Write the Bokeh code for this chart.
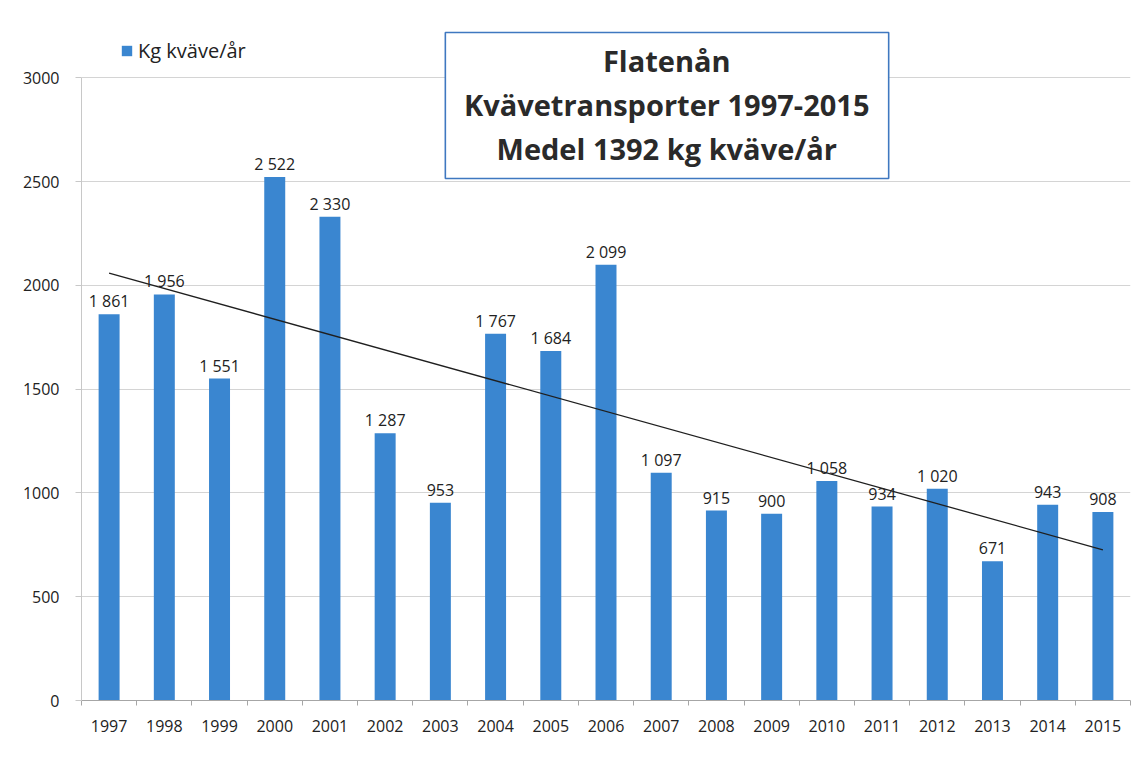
from bokeh.plotting import figure
from bokeh.models import (ColumnDataSource, LabelSet, Label, Legend, LegendItem,
                          FixedTicker, Range1d, BoxAnnotation)
from bokeh.core.properties import value
from bokeh.embed import file_html
from bokeh.resources import INLINE
import numpy as np

# ---- data ----
years = list(range(1997, 2016))
values = [1861, 1956, 1551, 2522, 2330, 1287, 953, 1767, 1684, 2099,
          1097, 915, 900, 1058, 934, 1020, 671, 943, 908]
year_labels = [str(y) for y in years]
value_labels = [f"{v:,}".replace(",", " ") for v in values]
y_ticks = [0, 500, 1000, 1500, 2000, 2500, 3000]
title_lines = ["Flatenån", "Kvävetransporter 1997-2015", "Medel 1392 kg kväve/år"]
series_name = "Kg kväve/år"

FONT = "Open Sans"
TXT = "#222222"
BLUE = "#3a86d0"

p = figure(width=1136, height=767, output_backend="svg", toolbar_location=None,
           x_range=Range1d(years[0] - 0.5, years[-1] + 0.5),
           y_range=Range1d(0, 3300),
           min_border_left=81, min_border_right=6, min_border_top=15, min_border_bottom=67)
p.outline_line_color = None
p.background_fill_color = "white"
p.border_fill_color = "white"

src = ColumnDataSource(dict(x=years, top=values, lab=value_labels))
bars = p.vbar(x="x", top="top", width=0.38, source=src, fill_color=BLUE, line_color=None)

# trend line (least squares of the data)
k, m = np.polyfit(years, values, 1)
tx = [years[0], years[-1]]
p.line(tx, [k * t + m for t in tx], line_color="#1f1f1f", line_width=1.3)

# data labels
p.add_layout(LabelSet(x="x", y="top", text="lab", source=src, y_offset=13,
                      text_align="center", text_baseline="middle",
                      text_font=value(FONT), text_font_size="16px", text_color=TXT))

# axes
p.xaxis.ticker = FixedTicker(ticks=years, minor_ticks=[y + 0.5 for y in [years[0] - 1] + years])
p.xaxis.major_label_overrides = {y: s for y, s in zip(years, year_labels)}
p.xaxis.major_tick_line_color = None
p.xaxis.minor_tick_out = 5
p.xaxis.minor_tick_in = 0
p.xaxis.minor_tick_line_color = "#a6a6a6"
p.xaxis.axis_line_color = "#a6a6a6"
p.xaxis.major_label_standoff = 13
p.yaxis.ticker = FixedTicker(ticks=y_ticks)
p.yaxis.bounds = (0, 3000)
p.yaxis.major_label_overrides = {t: str(t) for t in y_ticks}
p.yaxis.axis_line_color = "#c8c8c8"
p.yaxis.major_tick_out = 6
p.yaxis.major_tick_in = 0
p.yaxis.major_tick_line_color = "#c8c8c8"
p.yaxis.minor_tick_line_color = None
p.yaxis.major_label_standoff = 16
for ax in (p.xaxis, p.yaxis):
    ax.major_label_text_font = FONT
    ax.major_label_text_font_size = "16px"
    ax.major_label_text_color = TXT
p.xgrid.grid_line_color = None
p.ygrid.grid_line_color = "#d4d4d4"

# legend
legend = Legend(items=[LegendItem(label=series_name, renderers=[bars])],
                location=(39, 636), padding=0, margin=0, spacing=0,
                glyph_width=13, glyph_height=13, label_height=27, label_standoff=5,
                label_text_font=FONT, label_text_font_size="20px", label_text_color=TXT,
                border_line_color=None, background_fill_alpha=0)
p.add_layout(legend, "center")

# title box
p.add_layout(BoxAnnotation(left=2003.09, right=2011.12, bottom=2514.8, top=3218.1,
                           fill_color="white", fill_alpha=1.0,
                           line_color="#3f78c0", line_alpha=1.0, line_width=1.6))
for ty, line in zip([3083.2, 2871.2, 2659.3], title_lines):
    p.add_layout(Label(x=2007.1, y=ty, text=line,
                       text_align="center", text_baseline="middle",
                       text_font=FONT, text_font_style="bold", text_font_size="29px",
                       text_color="#2a2a2a"))

open("out.html", "w").write(file_html(p, INLINE))
